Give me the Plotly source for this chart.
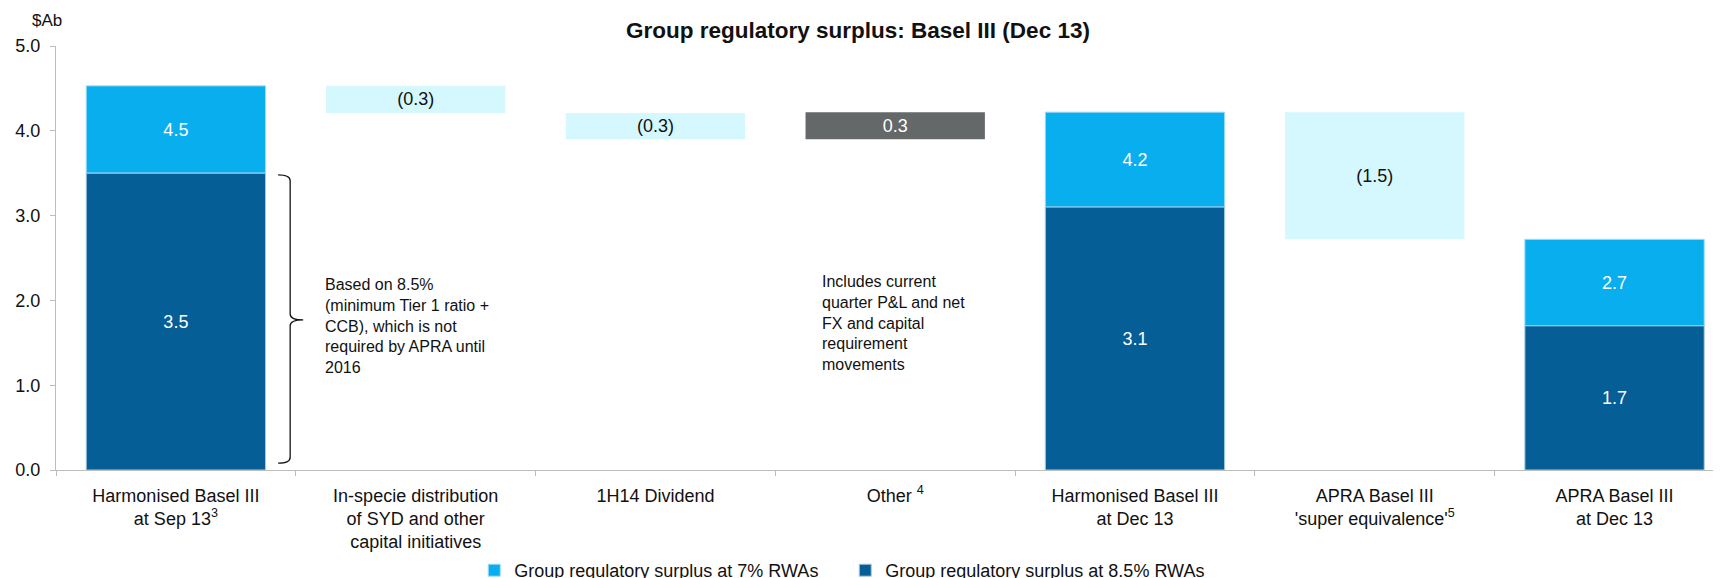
import plotly.graph_objects as go

# ---------------- data ----------------
categories = [
    "Harmonised Basel III<br>at Sep 13<sup>3</sup>",
    "In-specie distribution<br>of SYD and other<br>capital initiatives",
    "1H14 Dividend",
    "Other <sup>4</sup>",
    "Harmonised Basel III<br>at Dec 13",
    "APRA Basel III<br>'super equivalence'<sup>5</sup>",
    "APRA Basel III<br>at Dec 13",
]

total_idx = [0, 4, 6]
surplus_7pct = [4.53, 4.22, 2.72]     # total surplus at 7% RWAs
surplus_85pct = [3.50, 3.10, 1.70]    # surplus at 8.5% RWAs

move_idx = [1, 2, 3, 5]
move_from = [4.53, 4.21, 3.90, 4.22]
move_values = [-0.32, -0.31, 0.32, -1.50]

y_ticks = [0, 1, 2, 3, 4, 5]

note_1 = "Based on 8.5%<br>(minimum Tier 1 ratio +<br>CCB), which is not<br>required by APRA until<br>2016"
note_2 = "Includes current<br>quarter P&L and net<br>FX and capital<br>requirement<br>movements"

# ---------------- styles ----------------
FONT = "Liberation Sans, Arial, sans-serif"
C_LIGHT = "#08AEEE"
C_DARK = "#065E96"
C_PALE = "#D5F8FF"
C_GREY = "#656868"
AXIS = "#BDBDBD"

total_x = [categories[i] for i in total_idx]
move_x = [categories[i] for i in move_idx]

fig = go.Figure()

# 7% RWAs (upper part of stacked totals)
fig.add_trace(go.Bar(
    name="Group regulatory surplus at 7% RWAs",
    x=total_x,
    y=[t - d for t, d in zip(surplus_7pct, surplus_85pct)],
    base=surplus_85pct,
    marker=dict(color=C_LIGHT, line=dict(color="#9FDDF7", width=1)),
    text=[f"{v:.1f}" for v in surplus_7pct],
    textposition="inside", insidetextanchor="middle", constraintext="none",
    textfont=dict(color="white", size=18, family=FONT),
    width=0.748,
))
# 8.5% RWAs
fig.add_trace(go.Bar(
    name="Group regulatory surplus at 8.5% RWAs",
    x=total_x,
    y=surplus_85pct,
    base=[0] * len(surplus_85pct),
    marker=dict(color=C_DARK, line=dict(color="#A9CBE3", width=1)),
    text=[f"{v:.1f}" for v in surplus_85pct],
    textposition="inside", insidetextanchor="middle", constraintext="none",
    textfont=dict(color="white", size=18, family=FONT),
    width=0.748,
))

# movements (floating bars)
move_base = [f + min(v, 0) for f, v in zip(move_from, move_values)]
move_h = [abs(v) for v in move_values]
move_col = [C_GREY if v > 0 else C_PALE for v in move_values]
move_txtcol = ["white" if v > 0 else "#111111" for v in move_values]
move_txt = [f"{v:.1f}" if v > 0 else f"({abs(v):.1f})" for v in move_values]
fig.add_trace(go.Bar(
    x=move_x, y=move_h, base=move_base,
    marker=dict(color=move_col, line=dict(width=0)),
    text=move_txt,
    textposition="inside", insidetextanchor="middle", constraintext="none",
    textfont=dict(color=move_txtcol, size=18, family=FONT),
    width=0.748, showlegend=False,
))

# curly brace next to first bar
bx0, bx1, bx2 = 0.4266, 0.4766, 0.5308
yt, ym, yb = 3.48, 1.77, 0.08
d = 0.07
path = (f"M {bx0},{yt} Q {bx1},{yt} {bx1},{yt-d} L {bx1},{ym+d} "
        f"Q {bx1},{ym} {bx2},{ym} Q {bx1},{ym} {bx1},{ym-d} "
        f"L {bx1},{yb+d} Q {bx1},{yb} {bx0},{yb}")
fig.add_shape(type="path", path=path, xref="x", yref="y",
              line=dict(color="#111111", width=1.3))

fig.add_annotation(x=0.613, y=1.70, xref="x", yref="y", text=note_1,
                   showarrow=False, xanchor="left", yanchor="middle", align="left",
                   font=dict(size=16, color="#111111", family=FONT))
fig.add_annotation(x=2.687, y=1.73, xref="x", yref="y", text=note_2,
                   showarrow=False, xanchor="left", yanchor="middle", align="left",
                   font=dict(size=16, color="#111111", family=FONT))
fig.add_annotation(x=-0.0054, y=1.061, xref="paper", yref="paper", text="$Ab",
                   showarrow=False, xanchor="center", yanchor="middle",
                   font=dict(size=17, color="#111111", family=FONT))

# page body has an 8px margin, so the figure is sized/offset to compensate
fig.update_layout(
    width=1713, height=570,
    margin=dict(l=48, r=0, t=38, b=108, autoexpand=False),
    paper_bgcolor="white", plot_bgcolor="white",
    barmode="overlay",
    font=dict(family=FONT, size=18, color="#111111"),
    title=dict(text="Group regulatory surplus: Basel III (Dec 13)",
               x=0.4962, xanchor="center", y=0.9614, yanchor="middle",
               font=dict(size=22.5, color="#111111", family=FONT, weight="bold")),
    xaxis=dict(
        type="category", categoryorder="array", categoryarray=categories,
        range=[-0.5, 6.444], showline=True, linecolor=AXIS, linewidth=1,
        ticks="outside", tickson="boundaries", ticklen=5, tickcolor=AXIS,
        showgrid=False, zeroline=False, ticklabelstandoff=9,
        tickfont=dict(size=18, color="#111111", family=FONT),
    ),
    yaxis=dict(
        range=[0, 5], tickvals=y_ticks, tickformat=".1f",
        showline=True, linecolor=AXIS, linewidth=1,
        ticks="outside", ticklen=5, tickcolor=AXIS,
        showgrid=False, zeroline=False, ticklabelstandoff=6,
        tickfont=dict(size=18, color="#111111", family=FONT),
    ),
    legend=dict(orientation="h", x=0.2512, xanchor="left", y=-0.237, yanchor="middle",
                entrywidth=326, font=dict(size=18, color="#111111", family=FONT),
                traceorder="normal", bgcolor="rgba(0,0,0,0)"),
    showlegend=True,
)

fig.write_html("out.html")
